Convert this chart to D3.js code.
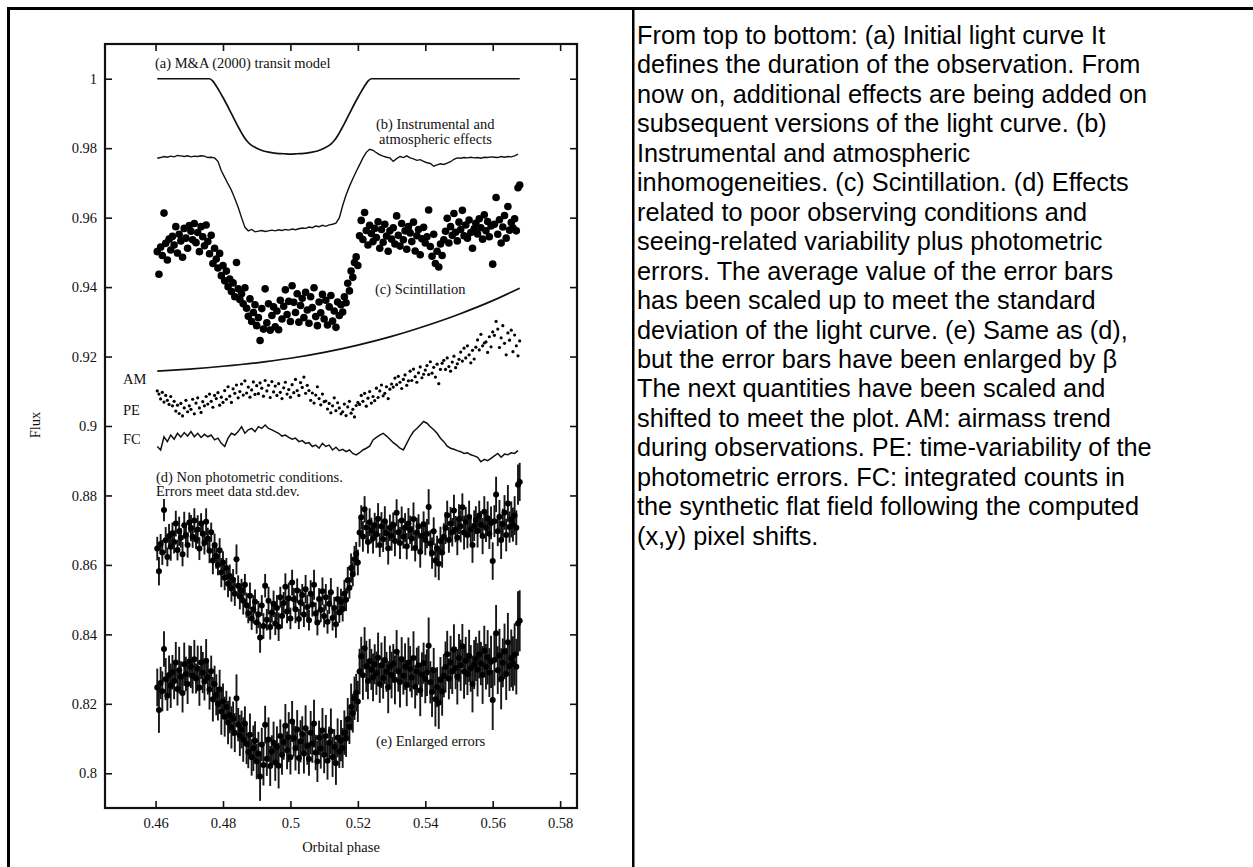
<!DOCTYPE html>
<html>
<head>
<meta charset="utf-8">
<script src="https://cdn.jsdelivr.net/npm/d3@7"></script>
<style>
  body { margin: 0; background: #fff; }
  svg { display: block; }
</style>
</head>
<body>
<svg id="fig" width="1253" height="867"></svg>
<script>
// ---------- data ----------
const xTicks = [0.46, 0.48, 0.5, 0.52, 0.54, 0.56, 0.58];
const xTickLabels = ["0.46", "0.48", "0.5", "0.52", "0.54", "0.56", "0.58"];
const yTicks = [0.8, 0.82, 0.84, 0.86, 0.88, 0.9, 0.92, 0.94, 0.96, 0.98, 1];
const yTickLabels = ["0.8", "0.82", "0.84", "0.86", "0.88", "0.9", "0.92", "0.94", "0.96", "0.98", "1"];

// observation cadence
const phaseStart = 0.4605;
const dotStep = 0.0005;   // scatter series
const lineStep = 0.001;   // line series

// (a) Mandel & Agol transit model
const modelPhase = [0.4605, 0.470, 0.476, 0.477, 0.478, 0.479, 0.480, 0.481, 0.482, 0.483, 0.484, 0.485, 0.486, 0.487, 0.488,
  0.490, 0.492, 0.494, 0.496, 0.498, 0.500, 0.502, 0.504, 0.506, 0.508, 0.510, 0.512,
  0.513, 0.514, 0.515, 0.516, 0.517, 0.518, 0.519, 0.520, 0.521, 0.522, 0.523, 0.524, 0.540, 0.568];
const modelFlux = [1.0, 1.0, 1.0, 0.9993, 0.9979, 0.9963, 0.9946, 0.9928, 0.9909, 0.9890, 0.9871, 0.9853, 0.9836, 0.9822, 0.9812,
  0.9800, 0.9792, 0.9788, 0.9785, 0.9784, 0.9783, 0.9784, 0.9785, 0.9788, 0.9792, 0.9800, 0.9812,
  0.9822, 0.9836, 0.9853, 0.9871, 0.9890, 0.9909, 0.9928, 0.9946, 0.9963, 0.9979, 0.9993, 1.0, 1.0, 1.0];

// (b) instrumental and atmospheric effects
const instFlux = [
  0.9771, 0.9773, 0.9776, 0.9774, 0.9777, 0.9775, 0.9779, 0.9778, 0.9776, 0.9778,
  0.9775, 0.9777, 0.9776, 0.9778, 0.9777, 0.9773, 0.9774, 0.9772, 0.9762, 0.9735,
  0.9716, 0.9697, 0.9679, 0.9655, 0.9630, 0.9600, 0.9572, 0.9562, 0.9566, 0.9559,
  0.9561, 0.9563, 0.9560, 0.9562, 0.9564, 0.9562, 0.9565, 0.9563, 0.9566, 0.9564,
  0.9567, 0.9565, 0.9568, 0.9570, 0.9569, 0.9573, 0.9571, 0.9576, 0.9574, 0.9578,
  0.9575, 0.9579, 0.9581, 0.9584, 0.9599, 0.9635, 0.9665, 0.9690, 0.9712, 0.9733,
  0.9752, 0.9772, 0.9788, 0.9797, 0.9794, 0.9787, 0.9781, 0.9777, 0.9774, 0.9772,
  0.9762, 0.9770, 0.9776, 0.9773, 0.9778, 0.9772, 0.9769, 0.9765, 0.9767, 0.9762,
  0.9758, 0.9756, 0.9748, 0.9752, 0.9755, 0.9753, 0.9757, 0.9761, 0.9768, 0.9772,
  0.9771, 0.9773, 0.9772, 0.9774, 0.9772, 0.9773, 0.9771, 0.9774, 0.9773, 0.9775,
  0.9774, 0.9773, 0.9776, 0.9774, 0.9776, 0.9775, 0.9778, 0.9783];

// (c) scintillation light curve; (d) and (e) are the same points shifted down
const scintFlux = [
  0.9502, 0.9437, 0.9515, 0.9491, 0.9613, 0.9526, 0.9478, 0.9538, 0.9507, 0.9546,
  0.9521, 0.9574, 0.9498, 0.9552, 0.9533, 0.9486, 0.9569, 0.9541, 0.9512, 0.9577,
  0.9561, 0.9536, 0.9583, 0.9528, 0.9557, 0.9502, 0.9574, 0.9545, 0.9519, 0.9579,
  0.9531, 0.9496, 0.9549, 0.9468, 0.9512, 0.9481, 0.9455, 0.9497, 0.9433, 0.9462,
  0.9418, 0.9446, 0.9401, 0.9423, 0.9387, 0.9412, 0.9372, 0.9471, 0.9395, 0.9364,
  0.9381, 0.9352, 0.9398, 0.9339, 0.9316, 0.9366, 0.9301, 0.9327, 0.9349, 0.9289,
  0.9312, 0.9246, 0.9338, 0.9279, 0.9395, 0.9297, 0.9352, 0.9276, 0.9318, 0.9343,
  0.9286, 0.9331, 0.9277, 0.9362, 0.9308, 0.9345, 0.9392, 0.9321, 0.9359, 0.9301,
  0.9404, 0.9356, 0.9327, 0.9381, 0.9299, 0.9347, 0.9368, 0.9312, 0.9385, 0.9334,
  0.9296, 0.9372, 0.9341, 0.9398, 0.9315, 0.9289, 0.9357, 0.9326, 0.9379, 0.9308,
  0.9362, 0.9291, 0.9343, 0.9376, 0.9302, 0.9331, 0.9284, 0.9357, 0.9318, 0.9349,
  0.9328, 0.9372, 0.9355, 0.9411, 0.9389, 0.9446, 0.9428, 0.9471, 0.9487, 0.9462,
  0.9548, 0.9592, 0.9537, 0.9615, 0.9563, 0.9521, 0.9578, 0.9554, 0.9531, 0.9569,
  0.9543, 0.9588, 0.9512, 0.9566, 0.9529, 0.9581, 0.9547, 0.9503, 0.9562, 0.9538,
  0.9571, 0.9524, 0.9605, 0.9549, 0.9518, 0.9583, 0.9536, 0.9562, 0.9509, 0.9574,
  0.9556, 0.9531, 0.9587, 0.9504, 0.9548, 0.9566, 0.9493, 0.9539, 0.9572, 0.9527,
  0.9545, 0.9622, 0.9517, 0.9489, 0.9552, 0.9468, 0.9503, 0.9458, 0.9524, 0.9491,
  0.9536, 0.9561, 0.9598, 0.9527, 0.9574, 0.9549, 0.9612, 0.9558, 0.9533, 0.9587,
  0.9566, 0.9621, 0.9548, 0.9579, 0.9541, 0.9593, 0.9557, 0.9512, 0.9568, 0.9584,
  0.9553, 0.9597, 0.9571, 0.9538, 0.9608, 0.9562, 0.9589, 0.9545, 0.9576, 0.9466,
  0.9581, 0.9658, 0.9552, 0.9594, 0.9527, 0.9573, 0.9606, 0.9541, 0.9632, 0.9564,
  0.9586, 0.9571, 0.9597, 0.9562, 0.9686, 0.9694];

const offsetD = 0.0855;   // shift of curve (d) below (c)
const offsetE = 0.1255;   // shift of curve (e) below (c)
const beta = 1.6;         // error enlargement for (e)

// photometric errors of (d)
const fluxErr = [
  0.0034, 0.0041, 0.0029, 0.0036, 0.0032, 0.0038, 0.0027, 0.0035, 0.0040, 0.0031,
  0.0033, 0.0037, 0.0030, 0.0042, 0.0028, 0.0035, 0.0039, 0.0031, 0.0036, 0.0029,
  0.0038, 0.0032, 0.0035, 0.0027, 0.0041, 0.0033, 0.0030, 0.0037, 0.0034, 0.0039,
  0.0031, 0.0036, 0.0028, 0.0040, 0.0033, 0.0037, 0.0030, 0.0035, 0.0042, 0.0032,
  0.0036, 0.0029, 0.0039, 0.0033, 0.0038, 0.0031, 0.0035, 0.0043, 0.0030, 0.0037,
  0.0034, 0.0040, 0.0031, 0.0036, 0.0029, 0.0038, 0.0033, 0.0041, 0.0035, 0.0032,
  0.0039, 0.0044, 0.0030, 0.0037, 0.0034, 0.0031, 0.0040, 0.0036, 0.0029, 0.0038,
  0.0033, 0.0037, 0.0041, 0.0030, 0.0036, 0.0032, 0.0039, 0.0034, 0.0045, 0.0031,
  0.0037, 0.0033, 0.0040, 0.0035, 0.0029, 0.0038, 0.0032, 0.0036, 0.0041, 0.0034,
  0.0030, 0.0039, 0.0035, 0.0043, 0.0032, 0.0037, 0.0031, 0.0036, 0.0040, 0.0033,
  0.0038, 0.0034, 0.0029, 0.0041, 0.0036, 0.0032, 0.0039, 0.0035, 0.0030, 0.0037,
  0.0036, 0.0040, 0.0033, 0.0038, 0.0031, 0.0042, 0.0035, 0.0039, 0.0034, 0.0037,
  0.0041, 0.0035, 0.0044, 0.0038, 0.0046, 0.0033, 0.0040, 0.0037, 0.0043, 0.0036,
  0.0039, 0.0045, 0.0034, 0.0041, 0.0037, 0.0043, 0.0036, 0.0047, 0.0038, 0.0042,
  0.0035, 0.0044, 0.0039, 0.0037, 0.0046, 0.0040, 0.0034, 0.0042, 0.0038, 0.0045,
  0.0041, 0.0036, 0.0048, 0.0039, 0.0043, 0.0035, 0.0046, 0.0040, 0.0037, 0.0044,
  0.0042, 0.0051, 0.0038, 0.0045, 0.0040, 0.0049, 0.0036, 0.0047, 0.0041, 0.0044,
  0.0039, 0.0046, 0.0042, 0.0037, 0.0048, 0.0041, 0.0045, 0.0038, 0.0050, 0.0043,
  0.0046, 0.0040, 0.0049, 0.0043, 0.0038, 0.0047, 0.0042, 0.0051, 0.0044, 0.0040,
  0.0048, 0.0043, 0.0039, 0.0052, 0.0045, 0.0041, 0.0049, 0.0044, 0.0047, 0.0054,
  0.0046, 0.0051, 0.0043, 0.0048, 0.0055, 0.0044, 0.0050, 0.0047, 0.0053, 0.0045,
  0.0052, 0.0049, 0.0056, 0.0050, 0.0058, 0.0055];

// AM: airmass trend (scaled)
const airmassPhase = [0.4605, 0.470, 0.480, 0.490, 0.500, 0.510, 0.520, 0.530, 0.540, 0.550, 0.560, 0.568];
const airmassFlux = [0.9158, 0.9164, 0.9172, 0.9182, 0.9195, 0.9212, 0.9233, 0.9258, 0.9288, 0.9322, 0.9361, 0.9397];

// PE: time variability of the photometric errors (scaled)
const peFlux = [
  0.9101, 0.9092, 0.9078, 0.9097, 0.9069, 0.9088, 0.9074, 0.9062, 0.9085, 0.9058,
  0.9071, 0.9043, 0.9060, 0.9036, 0.9065, 0.9029, 0.9052, 0.9074, 0.9041, 0.9058,
  0.9048, 0.9077, 0.9035, 0.9066, 0.9081, 0.9052, 0.9039, 0.9070, 0.9058, 0.9085,
  0.9063, 0.9092, 0.9071, 0.9054, 0.9088, 0.9079, 0.9096, 0.9060, 0.9083, 0.9068,
  0.9102, 0.9077, 0.9113, 0.9086, 0.9068, 0.9107, 0.9094, 0.9118, 0.9081, 0.9099,
  0.9121, 0.9089, 0.9130, 0.9095, 0.9112, 0.9083, 0.9104, 0.9127, 0.9091, 0.9116,
  0.9093, 0.9124, 0.9109, 0.9086, 0.9131, 0.9101, 0.9117, 0.9082, 0.9128, 0.9098,
  0.9115, 0.9088, 0.9122, 0.9097, 0.9079, 0.9110, 0.9126, 0.9092, 0.9105, 0.9083,
  0.9119, 0.9096, 0.9134, 0.9102, 0.9088, 0.9125, 0.9111, 0.9141, 0.9094, 0.9117,
  0.9102, 0.9074, 0.9095, 0.9066, 0.9089, 0.9113, 0.9079, 0.9061, 0.9092, 0.9070,
  0.9072, 0.9049, 0.9065, 0.9038, 0.9058, 0.9081, 0.9044, 0.9067, 0.9052, 0.9035,
  0.9041, 0.9063, 0.9030, 0.9055, 0.9071, 0.9037, 0.9048, 0.9026, 0.9059, 0.9068,
  0.9062, 0.9088, 0.9071, 0.9094, 0.9057, 0.9080, 0.9099, 0.9066, 0.9085, 0.9073,
  0.9109, 0.9082, 0.9101, 0.9118, 0.9087, 0.9094, 0.9113, 0.9079, 0.9106, 0.9121,
  0.9112, 0.9138, 0.9119, 0.9143, 0.9126, 0.9108, 0.9134, 0.9147, 0.9117, 0.9130,
  0.9158, 0.9131, 0.9164, 0.9142, 0.9126, 0.9153, 0.9170, 0.9139, 0.9149, 0.9161,
  0.9174, 0.9148, 0.9185, 0.9152, 0.9169, 0.9141, 0.9178, 0.9122, 0.9163, 0.9181,
  0.9189, 0.9163, 0.9196, 0.9171, 0.9158, 0.9184, 0.9201, 0.9168, 0.9179, 0.9192,
  0.9213, 0.9187, 0.9224, 0.9196, 0.9231, 0.9205, 0.9182, 0.9218, 0.9193, 0.9227,
  0.9248, 0.9219, 0.9264, 0.9231, 0.9239, 0.9242, 0.9212, 0.9257, 0.9228, 0.9271,
  0.9261, 0.9301, 0.9279, 0.9226, 0.9254, 0.9289, 0.9238, 0.9205, 0.9268, 0.9247,
  0.9276, 0.9214, 0.9262, 0.9231, 0.9202, 0.9245];

// FC: integrated flat-field counts along the pixel shifts (scaled)
const fcFlux = [
  0.8941, 0.8931, 0.8969, 0.8955, 0.8974, 0.8962, 0.8979, 0.8968, 0.8981, 0.8971,
  0.8984, 0.8969, 0.8979, 0.8967, 0.8976, 0.8969, 0.8974, 0.8960, 0.8965, 0.8950,
  0.8941, 0.8965, 0.8979, 0.8974, 0.8984, 0.8998, 0.8979, 0.8989, 0.8993, 0.8984,
  0.8998, 0.8993, 0.9003, 0.8993, 0.8989, 0.8984, 0.8979, 0.8971, 0.8974, 0.8967,
  0.8962, 0.8965, 0.8955, 0.8958, 0.8950, 0.8952, 0.8941, 0.8945, 0.8936, 0.8950,
  0.8941, 0.8945, 0.8931, 0.8939, 0.8929, 0.8933, 0.8926, 0.8931, 0.8921, 0.8917,
  0.8923, 0.8931, 0.8936, 0.8942, 0.8960, 0.8967, 0.8974, 0.8979, 0.8971, 0.8962,
  0.8952, 0.8945, 0.8936, 0.8931, 0.8950, 0.8969, 0.8984, 0.8993, 0.9003, 0.9013,
  0.9008, 0.8998, 0.8989, 0.8979, 0.8965, 0.8955, 0.8942, 0.8936, 0.8933, 0.8929,
  0.8926, 0.8921, 0.8923, 0.8917, 0.8914, 0.8910, 0.8897, 0.8904, 0.8900, 0.8907,
  0.8914, 0.8921, 0.8910, 0.8919, 0.8917, 0.8923, 0.8921, 0.8929];

const captionLines = [
  "From top to bottom: (a) Initial light curve It",
  "defines the duration of the observation. From",
  "now on, additional effects are being added on",
  "subsequent versions of the light curve. (b)",
  "Instrumental and atmospheric",
  "inhomogeneities. (c) Scintillation. (d) Effects",
  "related to poor observing conditions and",
  "seeing-related variability plus photometric",
  "errors. The average value of the error bars",
  "has been scaled up to meet the standard",
  "deviation of the light curve. (e) Same as (d),",
  "but the error bars have been enlarged by \u03b2",
  "The next quantities have been scaled and",
  "shifted to meet the plot. AM: airmass trend",
  "during observations. PE: time-variability of the",
  "photometric errors. FC: integrated counts in",
  "the synthetic flat field following the computed",
  "(x,y) pixel shifts."
];

// ---------- drawing ----------
const svg = d3.select("#fig");
const serif = "'Liberation Serif', 'Times New Roman', serif";
const sans = "'Liberation Sans', Arial, Helvetica, sans-serif";
const ink = "#111";

// page frame
svg.append("rect").attr("x", 7).attr("y", 7).attr("width", 1246).attr("height", 3).attr("fill", "#000");
svg.append("rect").attr("x", 7).attr("y", 7).attr("width", 3).attr("height", 860).attr("fill", "#000");
svg.append("rect").attr("x", 632).attr("y", 7).attr("width", 2.5).attr("height", 860).attr("fill", "#000");

// caption
const cap = svg.append("text")
  .attr("font-family", sans).attr("font-size", 25.3).attr("fill", "#000");
captionLines.forEach((t, i) => {
  cap.append("tspan").attr("x", 637).attr("y", 44 + i * 29.45).text(t);
});

// plot
const x = d3.scaleLinear().domain([0.445, 0.585]).range([105, 577]);
const y = d3.scaleLinear().domain([0.79, 1.01]).range([808, 44]);
const [x0, x1] = x.range();
const [y0, y1] = y.range();

const dotPhase = scintFlux.map((_, i) => phaseStart + i * dotStep);
const linePhase = instFlux.map((_, i) => phaseStart + i * lineStep);

const plot = svg.append("g");

function styleAxis(g, withLabels) {
  g.select(".domain").remove();
  g.selectAll(".tick line").attr("stroke", ink).attr("stroke-width", 1.6);
  g.selectAll(".tick text")
    .attr("font-family", serif).attr("font-size", 14.5).attr("fill", ink)
    .style("display", withLabels ? null : "none");
}

plot.append("g").attr("transform", `translate(0,${y0})`)
  .call(d3.axisBottom(x).tickValues(xTicks).tickSizeInner(-7).tickSizeOuter(0).tickPadding(10)
    .tickFormat((d, i) => xTickLabels[i]))
  .call(g => styleAxis(g, true));
plot.append("g").attr("transform", `translate(0,${y1})`)
  .call(d3.axisTop(x).tickValues(xTicks).tickSizeInner(-7).tickSizeOuter(0).tickFormat(""))
  .call(g => styleAxis(g, false));
plot.append("g").attr("transform", `translate(${x0},0)`)
  .call(d3.axisLeft(y).tickValues(yTicks).tickSizeInner(-7).tickSizeOuter(0).tickPadding(8)
    .tickFormat((d, i) => yTickLabels[i]))
  .call(g => styleAxis(g, true));
plot.append("g").attr("transform", `translate(${x1},0)`)
  .call(d3.axisRight(y).tickValues(yTicks).tickSizeInner(-7).tickSizeOuter(0).tickFormat(""))
  .call(g => styleAxis(g, false));

plot.append("rect")
  .attr("x", x0).attr("y", y1).attr("width", x1 - x0).attr("height", y0 - y1)
  .attr("fill", "none").attr("stroke", ink).attr("stroke-width", 2.2);

// axis titles
plot.append("text").attr("x", (x0 + x1) / 2).attr("y", 852).attr("text-anchor", "middle")
  .attr("font-family", serif).attr("font-size", 14.5).attr("fill", ink).text("Orbital phase");
plot.append("text").attr("transform", "translate(40,425) rotate(-90)").attr("text-anchor", "middle")
  .attr("font-family", serif).attr("font-size", 14.5).attr("fill", ink).text("Flux");

// lines
const lineSmooth = d3.line().x(d => x(d[0])).y(d => y(d[1])).curve(d3.curveMonotoneX);
const lineRaw = d3.line().x(d => x(d[0])).y(d => y(d[1]));

plot.append("path").datum(modelPhase.map((p, i) => [p, modelFlux[i]]))
  .attr("d", lineSmooth).attr("fill", "none").attr("stroke", ink).attr("stroke-width", 1.7);
plot.append("path").datum(linePhase.map((p, i) => [p, instFlux[i]]))
  .attr("d", lineRaw).attr("fill", "none").attr("stroke", ink).attr("stroke-width", 1.4);
plot.append("path").datum(airmassPhase.map((p, i) => [p, airmassFlux[i]]))
  .attr("d", lineSmooth).attr("fill", "none").attr("stroke", ink).attr("stroke-width", 1.7);
plot.append("path").datum(linePhase.map((p, i) => [p, fcFlux[i]]))
  .attr("d", lineRaw).attr("fill", "none").attr("stroke", ink).attr("stroke-width", 1.5);

// (c) scintillation points
plot.append("g").selectAll("circle").data(scintFlux).join("circle")
  .attr("cx", (d, i) => x(dotPhase[i])).attr("cy", d => y(d)).attr("r", 3.8).attr("fill", "#000");

// PE points
plot.append("g").selectAll("circle").data(peFlux).join("circle")
  .attr("cx", (d, i) => x(dotPhase[i])).attr("cy", d => y(d)).attr("r", 1.6).attr("fill", "#000");

// (d) and (e) points with error bars
function errorSeries(offset, scale) {
  const g = plot.append("g");
  g.selectAll("line").data(scintFlux).join("line")
    .attr("x1", (d, i) => x(dotPhase[i])).attr("x2", (d, i) => x(dotPhase[i]))
    .attr("y1", (d, i) => y(d - offset - scale * fluxErr[i]))
    .attr("y2", (d, i) => y(d - offset + scale * fluxErr[i]))
    .attr("stroke", "#161616").attr("stroke-width", 1.9);
  g.selectAll("circle").data(scintFlux).join("circle")
    .attr("cx", (d, i) => x(dotPhase[i])).attr("cy", d => y(d - offset))
    .attr("r", 3.0).attr("fill", "#000");
}
errorSeries(offsetD, 1);
errorSeries(offsetE, beta);

// panel labels
const labels = [
  { t: "(a) M&A (2000) transit model", x: 155, y: 68 },
  { t: "(b) Instrumental and", x: 376, y: 129 },
  { t: "atmospheric effects", x: 379, y: 143.5 },
  { t: "(c) Scintillation", x: 375, y: 294 },
  { t: "AM", x: 123, y: 384 },
  { t: "PE", x: 123, y: 415 },
  { t: "FC", x: 123, y: 444 },
  { t: "(d) Non photometric conditions.", x: 156, y: 482 },
  { t: "Errors meet data std.dev.", x: 156, y: 496 },
  { t: "(e) Enlarged errors", x: 376, y: 746 }
];
plot.append("g").selectAll("text").data(labels).join("text")
  .attr("x", d => d.x).attr("y", d => d.y)
  .attr("font-family", serif).attr("font-size", 14.5).attr("fill", ink)
  .text(d => d.t);
</script>
</body>
</html>
